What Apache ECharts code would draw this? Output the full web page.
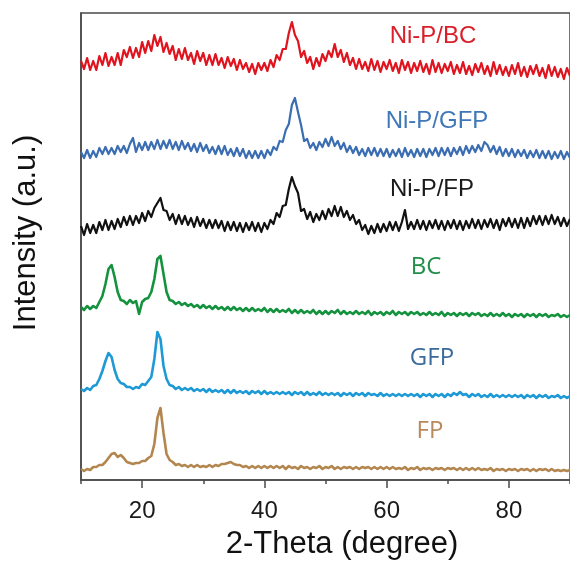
<!DOCTYPE html>
<html>
<head>
<meta charset="utf-8">
<script src="https://cdn.jsdelivr.net/npm/echarts@6/dist/echarts.min.js"></script>
<style>html,body{margin:0;padding:0;background:#fff;}#c{width:570px;height:561px;}</style>
</head>
<body>
<div id="c"></div>
<script>
// 2-Theta sample positions (degree)
const twoTheta = [
10,10.5,11,11.5,12,12.5,13,13.5,14,14.5,
15,15.5,16,16.5,17,17.5,18,18.5,19,19.5,
20,20.5,21,21.5,22,22.5,23,23.5,24,24.5,
25,25.5,26,26.5,27,27.5,28,28.5,29,29.5,
30,30.5,31,31.5,32,32.5,33,33.5,34,34.5,
35,35.5,36,36.5,37,37.5,38,38.5,39,39.5,
40,40.5,41,41.5,42,42.5,43,43.5,44,44.5,
45,45.5,46,46.5,47,47.5,48,48.5,49,49.5,
50,50.5,51,51.5,52,52.5,53,53.5,54,54.5,
55,55.5,56,56.5,57,57.5,58,58.5,59,59.5,
60,60.5,61,61.5,62,62.5,63,63.5,64,64.5,
65,65.5,66,66.5,67,67.5,68,68.5,69,69.5,
70,70.5,71,71.5,72,72.5,73,73.5,74,74.5,
75,75.5,76,76.5,77,77.5,78,78.5,79,79.5,
80,80.5,81,81.5,82,82.5,83,83.5,84,84.5,
85,85.5,86,86.5,87,87.5,88,88.5,89,89.5,
90];

// Intensities (a.u., stacked with offsets as in the figure)
const niP_BC = [
419,411,422,410,419,410,424,415,427,414,
423,415,427,415,430,423,433,422,432,423,
438,427,439,429,445,434,443,428,437,426,
434,420,431,421,432,420,427,416,429,419,
427,415,425,415,426,415,422,412,423,414,
421,410,420,411,417,408,416,406,417,410,
417,409,420,413,425,420,431,431,447,458,
445,439,423,429,417,423,411,422,414,426,
419,429,423,436,423,430,418,427,415,422,
411,421,411,418,409,421,410,419,408,418,
411,420,409,417,407,420,410,418,407,417,
409,419,408,416,406,420,408,417,407,416,
409,418,406,415,407,418,406,414,405,416,
408,417,406,414,404,418,406,415,405,413,
404,415,406,417,404,413,403,414,406,415,
404,412,402,415,404,413,403,411,401,412,
404];

const niP_GFP = [
328,322,330,322,329,323,332,326,333,326,
332,326,334,328,334,327,336,342,328,337,
330,338,330,338,331,340,331,339,332,340,
331,338,330,339,331,337,329,336,328,337,
329,335,327,333,326,334,326,334,325,331,
324,332,324,331,322,329,322,329,322,329,
322,330,325,333,330,339,338,350,356,375,
382,368,355,339,341,332,337,330,338,333,
341,334,343,334,339,331,337,328,334,327,
333,325,331,324,332,325,332,324,331,324,
331,323,330,324,331,323,332,324,330,323,
331,324,331,323,331,325,332,324,332,325,
332,324,332,326,333,325,334,327,334,328,
335,329,338,335,328,334,326,333,324,331,
324,331,323,330,324,330,322,329,323,330,
322,329,322,329,321,328,322,329,321,328,
322];

const niP_FP = [
254,245,256,247,255,247,258,250,260,250,
259,251,261,253,263,255,264,255,264,257,
267,259,269,263,272,277,282,270,269,260,
266,256,265,256,264,255,262,253,263,254,
261,252,260,252,260,252,259,249,258,250,
258,249,257,248,257,250,258,249,257,248,
257,251,260,256,267,263,274,275,291,303,
294,287,269,271,261,268,258,266,260,269,
261,271,264,274,264,273,263,269,260,265,
256,260,250,255,246,254,247,256,248,256,
249,258,250,258,249,258,270,251,258,251,
260,251,259,250,259,252,260,251,259,250,
259,252,260,251,259,250,259,252,261,252,
260,251,260,253,261,252,260,250,261,254,
262,253,261,252,262,252,262,254,264,256,
264,255,264,256,265,256,263,254,262,254,
261];

const bc = [
173,170,174,171,174,172,178,184,196,211,
215,203,188,180,179,176,180,177,179,166,
178,181,182,188,201,221,224,206,188,180,
179,176,178,175,177,174,176,173,175,172,
175,172,174,171,174,171,173,170,173,170,
173,170,172,169,172,169,172,169,171,169,
172,168,171,168,171,168,170,168,171,167,
170,167,170,167,169,167,170,166,169,166,
169,166,169,167,170,166,169,166,168,166,
169,166,168,166,169,165,168,166,168,165,
168,166,169,165,168,166,168,165,168,166,
168,165,167,165,168,165,167,165,168,164,
167,165,167,164,167,165,167,164,167,165,
167,164,166,164,167,164,166,164,167,164,
166,163,166,164,166,163,166,164,166,163,
166,164,166,163,165,164,166,163,165,163,
165];

const gfp = [
91,89,92,90,94,95,101,109,119,127,
123,110,101,97,96,93,93,91,93,92,
96,95,99,103,121,148,141,114,101,95,
94,91,93,90,92,90,92,89,91,89,
91,88,91,88,90,88,90,87,90,87,
90,87,89,87,89,86,89,87,89,86,
89,86,88,86,88,86,88,86,88,85,
88,86,88,85,88,85,87,85,88,85,
87,85,87,85,87,84,87,85,87,84,
87,85,87,84,87,85,86,84,87,84,
86,84,86,84,86,84,86,84,86,84,
86,83,86,84,86,83,86,84,86,83,
86,84,87,85,88,85,86,83,86,84,
86,83,85,83,86,83,85,83,85,83,
85,83,85,83,85,82,85,83,85,82,
85,83,85,82,84,83,85,82,84,82,
84];

const fp = [
11,9,11,10,13,13,15,15,18,22,
26,27,23,25,22,18,17,16,17,17,
19,19,22,24,36,62,72,47,26,20,
18,15,16,14,15,13,15,13,15,13,
14,13,15,13,15,14,16,16,17,18,
16,15,15,13,14,12,14,12,14,12,
14,12,14,12,14,12,14,11,14,12,
13,11,14,12,13,11,13,12,14,11,
13,12,14,11,13,11,13,12,13,11,
13,11,13,12,13,11,13,11,13,11,
13,11,13,11,12,11,13,10,12,11,
13,10,12,11,12,10,12,11,12,10,
12,11,12,10,12,10,12,10,12,10,
12,10,11,10,12,9,11,10,11,9,
11,10,11,9,11,10,11,9,11,9,
11,10,11,9,11,9,10,9,10,9,
10];

const seriesNames = ['Ni-P/BC','Ni-P/GFP','Ni-P/FP','BC','GFP','FP'];
const seriesValues = [niP_BC, niP_GFP, niP_FP, bc, gfp, fp];
const majorTicks = [20, 40, 60, 80];
const minorTicks = [10, 30, 50, 70, 90];

const lineColors = ['#e0141e','#3b6db3','#111111','#14923e','#1d9ad6','#b3864f'];
const lineWidths = [2.2, 2.2, 2.2, 2.6, 2.6, 2.6];
const labelColors = ['#d9202a','#3f78b8','#1a1a1a','#1f8f4a','#3a6a9c','#b8895c'];
const labelPos = [[433,36],[437,121],[432,189],[426,267],[432,358],[430,431]];
const labelFonts = ['Liberation Sans','Liberation Sans','Liberation Sans','Open Sans','Open Sans','Open Sans'];

const chart = echarts.init(document.getElementById('c'), null, {renderer:'canvas'});

const series = seriesNames.map((name, k) => ({
  name: name,
  type: 'line',
  xAxisIndex: 0,
  yAxisIndex: 0,
  showSymbol: false,
  symbol: 'none',
  animation: false,
  lineStyle: {color: lineColors[k], width: lineWidths[k], join: 'round'},
  data: twoTheta.map((x, i) => [x, seriesValues[k][i]])
}));

const graphics = seriesNames.map((name, k) => ({
  type: 'text',
  x: labelPos[k][0], y: labelPos[k][1],
  style: {
    text: name,
    fill: labelColors[k],
    font: '24px "' + labelFonts[k] + '"',
    textAlign: 'center',
    textVerticalAlign: 'middle'
  }
}));
graphics.push({
  type: 'text', x: 342, y: 544,
  style: {text: '2-Theta (degree)', fill: '#111', font: '31px "Liberation Sans"', textAlign: 'center', textVerticalAlign: 'middle'}
});
graphics.push({
  type: 'text', x: 26, y: 233, rotation: Math.PI / 2,
  style: {text: 'Intensity (a.u.)', fill: '#111', font: '31px "Liberation Sans"', textAlign: 'center', textVerticalAlign: 'middle'}
});

chart.setOption({
  animation: false,
  backgroundColor: '#fff',
  grid: {left: 81, top: 13, width: 493, height: 467, show: true, borderColor: '#4a4a4a', borderWidth: 1.5, backgroundColor: 'transparent'},
  xAxis: [
    {
      type: 'value', min: 10, max: 90, position: 'bottom',
      axisLine: {show: true, lineStyle: {color: '#4a4a4a', width: 1.5}},
      axisTick: {show: true, customValues: majorTicks, length: 8, lineStyle: {color: '#4a4a4a', width: 1.5}},
      axisLabel: {show: true, customValues: majorTicks, margin: 19, color: '#1a1a1a', fontSize: 24, fontFamily: 'Liberation Sans'},
      splitLine: {show: false}
    },
    {
      type: 'value', min: 10, max: 90, position: 'bottom', gridIndex: 0,
      axisLine: {show: false},
      axisTick: {show: true, customValues: minorTicks, length: 4, lineStyle: {color: '#4a4a4a', width: 1.5}},
      axisLabel: {show: false},
      splitLine: {show: false}
    }
  ],
  yAxis: {
    type: 'value', min: 0, max: 467,
    axisLine: {show: true, lineStyle: {color: '#4a4a4a', width: 1.5}},
    axisTick: {show: false}, axisLabel: {show: false}, splitLine: {show: false}
  },
  series: series,
  graphic: graphics
});
</script>
</body>
</html>
